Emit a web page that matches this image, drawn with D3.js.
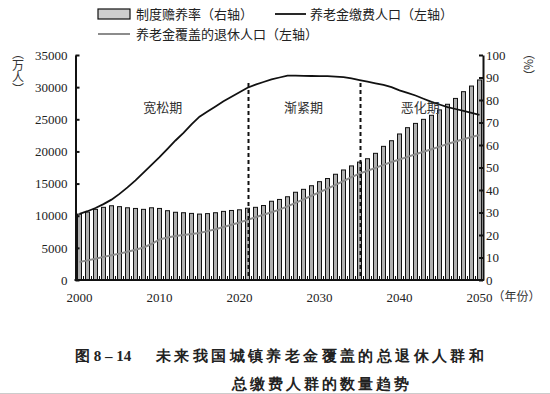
<!DOCTYPE html>
<html>
<head>
<meta charset="utf-8">
<title>养老金人口趋势</title>
<script src="https://cdn.jsdelivr.net/npm/d3@7"></script>
<style>
  body { margin: 0; background: #fff; }
  svg text { font-family: "Liberation Serif", "DejaVu Serif", serif; }
  svg .zh { font-family: "Noto Sans CJK SC", sans-serif; }
  svg .vert { writing-mode: vertical-rl; }
</style>
</head>
<body>
<div id="chart"></div>
<script>
// years 2000-2050
var years = d3.range(2000, 2051);

// 制度赡养率 (%), right axis
var ratio = [29.3, 30.2, 31.4, 32.3, 33.0, 32.6, 32.1, 31.8, 31.4, 32.1,
             31.8, 30.8, 30.1, 29.9, 29.6, 29.3, 29.5, 29.9, 30.5, 30.9,
             31.2, 31.9, 32.3, 33.1, 35.0, 35.8, 37.0, 39.0, 40.3, 41.9,
             43.7, 45.1, 47.0, 48.9, 50.7, 52.4, 53.9, 56.3, 59.4, 61.9,
             64.9, 67.7, 69.6, 71.4, 73.2, 75.6, 78.1, 80.7, 83.7, 86.2,
             88.9];

// 养老金缴费人口 (万人), left axis
var payers = [10300, 10700, 11200, 11800, 12500, 13400, 14400, 15500, 16700, 17900,
              19100, 20400, 21700, 22900, 24200, 25400, 26200, 27000, 27800, 28500,
              29200, 29900, 30400, 30800, 31200, 31500, 31800, 31780, 31750, 31730,
              31700, 31700, 31650, 31550, 31350, 31100, 30850, 30600, 30350, 30000,
              29500, 29100, 28700, 28200, 27700, 27300, 26900, 26600, 26300, 26000,
              25700];

// 养老金覆盖的退休人口 (万人), left axis
var retirees = [2800, 3050, 3300, 3600, 3850, 4100, 4400, 4700, 5050, 5600,
                6300, 6600, 6850, 7000, 7150, 7300, 7600, 7900, 8250, 8600,
                8950, 9350, 9750, 10150, 10550, 10950, 11450, 12000, 12550, 13100,
                13650, 14200, 14800, 15400, 16000, 16550, 17000, 17450, 17900, 18350,
                18750, 19150, 19550, 19950, 20350, 20750, 21150, 21550, 21900, 22250,
                22550];

var leftTicks = [0, 5000, 10000, 15000, 20000, 25000, 30000, 35000];
var rightTicks = [0, 10, 20, 30, 40, 50, 60, 70, 80, 90, 100];
var xTicks = [2000, 2010, 2020, 2030, 2040, 2050];
var dividers = [2021, 2035];
var phases = [
  {name: '宽松期', year: 2010.4},
  {name: '渐紧期', year: 2028},
  {name: '恶化期', year: 2042.6}
];

var W = 550, H = 394;
var svg = d3.select('#chart').append('svg')
  .attr('width', W).attr('height', H);

var x = d3.scaleLinear().domain([2000, 2050]).range([79.5, 479.5]);
var yL = d3.scaleLinear().domain([0, 35000]).range([280, 55]);
var yR = d3.scaleLinear().domain([0, 100]).range([280, 55]);

// bars
svg.append('g').selectAll('rect')
  .data(years)
  .enter().append('rect')
  .attr('x', function(d){ return x(d) - 2; })
  .attr('y', function(d, i){ return yR(ratio[i]); })
  .attr('width', 4)
  .attr('height', function(d, i){ return yR(0) - yR(ratio[i]); })
  .attr('fill', '#b0b0b0')
  .attr('stroke', '#111')
  .attr('stroke-width', 1);

// lines
var lineL = function(vals){
  return d3.line()
    .x(function(d, i){ return x(years[i]); })
    .y(function(d){ return yL(d); })(vals);
};
svg.append('path').attr('d', lineL(retirees))
  .attr('fill', 'none').attr('stroke', '#8c8c8c').attr('stroke-width', 2);
svg.append('path').attr('d', lineL(payers))
  .attr('fill', 'none').attr('stroke', '#111').attr('stroke-width', 1.8);

// dividers
svg.append('g').selectAll('line')
  .data(dividers)
  .enter().append('line')
  .attr('x1', function(d){ return x(d) + 1; })
  .attr('x2', function(d){ return x(d) + 1; })
  .attr('y1', 83).attr('y2', 280)
  .attr('stroke', '#111').attr('stroke-width', 2)
  .attr('stroke-dasharray', '4,3');

svg.append('g').selectAll('text')
  .data(phases)
  .enter().append('text')
  .attr('class', 'zh')
  .attr('x', function(d){ return x(d.year); })
  .attr('y', 112)
  .attr('text-anchor', 'middle')
  .attr('font-size', 13)
  .attr('fill', '#333')
  .text(function(d){ return d.name; });

// axes
var axL = svg.append('g').attr('transform', 'translate(75.5,0)')
  .call(d3.axisLeft(yL).tickValues(leftTicks).tickFormat(d3.format('d'))
    .tickSize(-4).tickPadding(8).tickSizeOuter(0));
var axR = svg.append('g').attr('transform', 'translate(483,0)')
  .call(d3.axisRight(yR).tickValues(rightTicks).tickFormat(d3.format('d'))
    .tickSize(-4).tickPadding(6).tickSizeOuter(0));
[axL, axR].forEach(function(ax){
  ax.select('.domain').attr('stroke', '#111').attr('stroke-width', 2);
  ax.selectAll('.tick line').attr('stroke', '#111').attr('stroke-width', 2);
  ax.selectAll('.tick text').attr('font-family', '"Liberation Serif", serif')
    .attr('font-size', 13).attr('fill', '#222');
});
axR.selectAll('.tick text').attr('x', 3);

// x baseline with yearly ticks
svg.append('line').attr('x1', 74.5).attr('x2', 484)
  .attr('y1', 280).attr('y2', 280).attr('stroke', '#111').attr('stroke-width', 2);
svg.append('g').selectAll('line')
  .data(d3.range(2000, 2050))
  .enter().append('line')
  .attr('x1', function(d){ return x(d + 0.5); })
  .attr('x2', function(d){ return x(d + 0.5); })
  .attr('y1', 280).attr('y2', 276)
  .attr('stroke', '#111').attr('stroke-width', 1);

svg.append('g').selectAll('text')
  .data(xTicks)
  .enter().append('text')
  .attr('x', function(d){ return x(d); })
  .attr('y', 302)
  .attr('text-anchor', 'middle')
  .attr('font-size', 13)
  .attr('fill', '#222')
  .text(function(d){ return d; });
svg.append('text').attr('class', 'zh')
  .attr('x', x(2050) + 13).attr('y', 301)
  .attr('font-size', 12).attr('fill', '#333')
  .text('（年份）');

// axis units, vertical
svg.append('text').attr('class', 'zh vert')
  .attr('x', 18).attr('y', 47)
  .attr('font-size', 12).attr('fill', '#333')
  .text('（万人）');
svg.append('text').attr('class', 'zh vert')
  .attr('x', 529).attr('y', 47)
  .attr('font-size', 12).attr('fill', '#333')
  .text('（%）');

// legend
var lg = svg.append('g');
lg.append('rect').attr('x', 98).attr('y', 9).attr('width', 32).attr('height', 10)
  .attr('fill', '#cfcfcf').attr('stroke', '#111').attr('stroke-width', 1.2);
lg.append('text').attr('class', 'zh').attr('x', 136).attr('y', 19)
  .attr('font-size', 13).attr('fill', '#222').text('制度赡养率（右轴）');
lg.append('line').attr('x1', 275).attr('x2', 306).attr('y1', 14).attr('y2', 14)
  .attr('stroke', '#111').attr('stroke-width', 1.8);
lg.append('text').attr('class', 'zh').attr('x', 310).attr('y', 19)
  .attr('font-size', 13).attr('fill', '#222').text('养老金缴费人口（左轴）');
lg.append('line').attr('x1', 98).attr('x2', 130).attr('y1', 34).attr('y2', 34)
  .attr('stroke', '#8c8c8c').attr('stroke-width', 2);
lg.append('text').attr('class', 'zh').attr('x', 136).attr('y', 39)
  .attr('font-size', 13).attr('fill', '#222').text('养老金覆盖的退休人口（左轴）');

// caption
var cap = svg.append('g').attr('class', 'zh').attr('fill', '#222');
cap.append('text').attr('x', 75).attr('y', 361)
  .attr('font-size', 15).attr('font-weight', 'bold')
  .attr('font-family', '"Noto Sans CJK SC", sans-serif')
  .text('图 8 – 14');
cap.append('text').attr('x', 156).attr('y', 361)
  .attr('font-size', 15).attr('font-weight', 'bold').attr('letter-spacing', 3.4)
  .attr('font-family', '"Noto Sans CJK SC", sans-serif')
  .text('未来我国城镇养老金覆盖的总退休人群和');
cap.append('text').attr('x', 232).attr('y', 389)
  .attr('font-size', 15).attr('font-weight', 'bold').attr('letter-spacing', 3)
  .attr('font-family', '"Noto Sans CJK SC", sans-serif')
  .text('总缴费人群的数量趋势');
svg.append('line').attr('x1', 0).attr('x2', 550).attr('y1', 393.5).attr('y2', 393.5)
  .attr('stroke', '#ccc').attr('stroke-width', 1);
</script>
</body>
</html>
